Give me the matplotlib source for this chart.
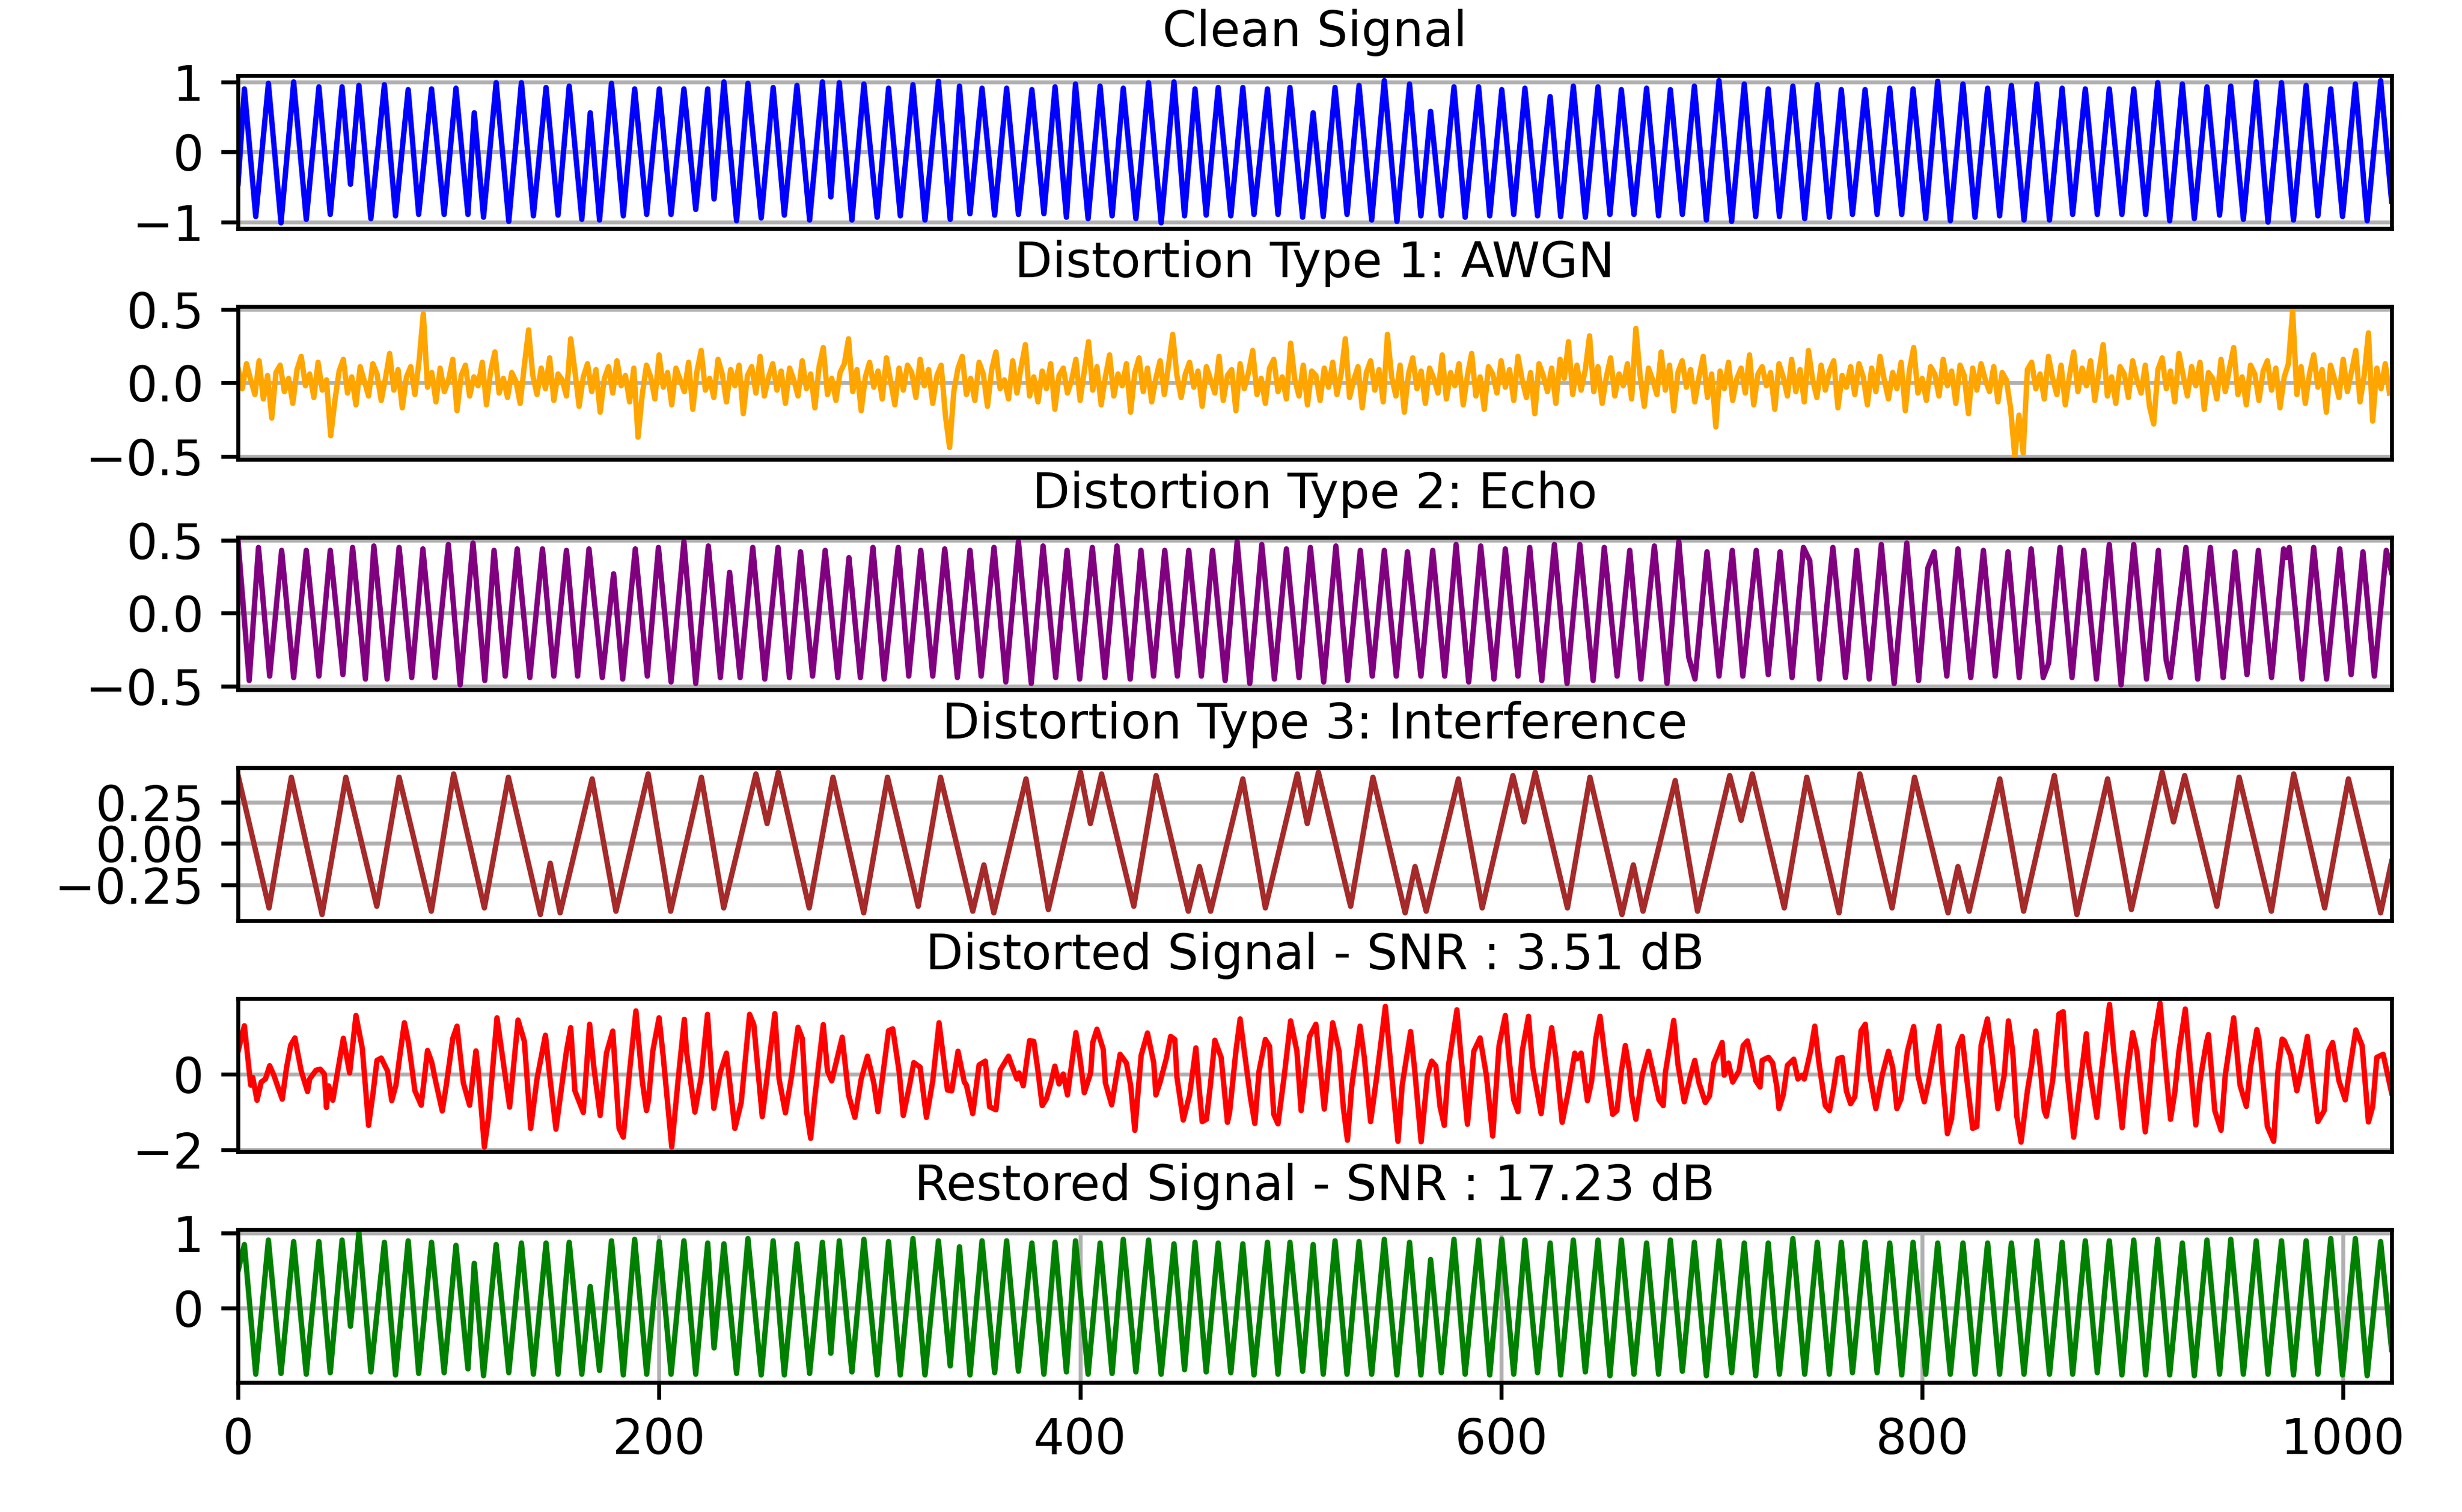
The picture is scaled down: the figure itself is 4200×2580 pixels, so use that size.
"""Clean, distorted and restored test signal, six stacked panels."""

import numpy as np
import matplotlib
matplotlib.use("Agg")
import matplotlib.pyplot as plt

# sample index of each turning point of the tone (shared by clean and restored)
TONE_T = [
    0, 3.0, 8.4, 14.4, 20.4, 26.4, 32.4, 38.4, 43.8, 49.4, 53.4,
    57.4, 63.1, 69.5, 74.8, 80.8, 85.8, 91.9, 97.9, 103.5, 109.2,
    112.2, 116.6, 122.6, 128.6, 134.6, 140.3, 146.3, 152.0, 157.3, 163.3,
    167.3, 171.7, 177.4, 183.0, 188.4, 194.1, 200.1, 205.7, 211.8, 217.4,
    223.1, 226.1, 230.8, 236.8, 242.2, 248.5, 254.2, 259.5, 265.5, 271.5,
    277.6, 281.6, 285.6, 291.6, 297.3, 303.6, 309.0, 314.6, 320.6, 326.3,
    332.7, 338.3, 342.7, 347.7, 353.4, 359.4, 365.1, 370.7, 377.1, 382.8,
    388.1, 393.5, 397.8, 403.8, 409.5, 415.2, 420.5, 426.5, 432.5, 438.5,
    444.6, 449.6, 454.6, 459.9, 465.6, 471.6, 477.3, 482.6, 489.0, 494.0,
    499.7, 505.7, 510.7, 515.5,
    521.1, 526.8, 532.5, 538.5, 544.5, 550.5, 556.5, 561.9, 566.5, 571.6,
    577.6, 582.9, 589.3, 594.6, 600.3, 606.0, 611.3, 617.3, 623.3, 628.3,
    634.3, 640.0, 646.0, 651.7, 657.1, 663.1, 669.1, 674.8, 680.4, 686.1,
    691.8, 697.5, 703.5, 709.5, 715.5, 720.9, 726.9, 732.2, 738.6, 744.2,
    750.2, 755.9, 761.6, 766.9, 772.9, 778.6, 784.6, 790.3, 795.7, 801.7,
    807.4, 813.4, 819.4, 825.1, 831.1, 836.8, 842.4, 848.4, 854.5, 860.5,
    866.5, 871.5, 877.5, 883.2, 888.9, 894.9, 900.5, 906.2, 911.9, 917.6,
    923.6, 929.3, 935.3, 941.3, 946.6, 952.6, 958.7, 964.3, 970.7, 976.4,
    982.4, 988.0, 994.1, 999.7, 1005.8, 1011.4, 1017.8, 1023,
]

CLEAN_V = [
    -0.45,
    0.90, -0.92, 0.98, -1.01, 1.00, -0.96, 0.93, -0.89, 0.93, -0.46,
    0.95, -0.95, 0.96, -0.91, 0.89, -0.89, 0.90, -0.89, 0.91, -0.89,
    0.56, -0.93, 0.99, -0.99, 0.99, -0.91, 0.92, -0.90, 0.94, -0.96,
    0.56, -0.97, 0.98, -0.91, 0.90, -0.89, 0.90, -0.89, 0.90, -0.82,
    0.90, -0.67, 1.00, -0.98, 0.98, -0.94, 0.92, -0.90, 0.95, -0.97,
    1.00, -0.64, 0.99, -0.97, 0.97, -0.93, 0.91, -0.91, 0.96, -0.97,
    1.01, -0.96, 0.94, -0.88, 0.91, -0.90, 0.91, -0.89, 0.89, -0.88,
    0.93, -0.93, 0.97, -0.95, 0.94, -0.91, 0.91, -0.95, 0.99, -1.01,
    1.00, -0.91, 0.90, -0.90, 0.92, -0.91, 0.92, -0.89, 0.90, -0.89,
    0.92, -0.93, 0.56, -0.92,
    0.92, -0.89, 0.95, -0.97, 1.02, -0.99, 0.97, -0.91, 0.58, -0.91,
    0.93, -0.93, 0.93, -0.91, 0.89, -0.89, 0.91, -0.91, 0.79, -0.92,
    0.94, -0.93, 0.93, -0.89, 0.89, -0.89, 0.91, -0.91, 0.89, -0.89,
    0.94, -0.97, 1.02, -0.99, 0.97, -0.92, 0.90, -0.92, 0.94, -0.95,
    0.96, -0.93, 0.89, -0.89, 0.89, -0.89, 0.91, -0.89, 0.90, -0.95,
    1.01, -0.98, 0.97, -0.93, 0.91, -0.91, 0.95, -0.97, 0.97, -0.97,
    0.91, -0.89, 0.90, -0.89, 0.90, -0.89, 0.90, -0.89, 0.99, -0.98,
    0.97, -0.95, 0.93, -0.90, 0.94, -0.96, 1.00, -1.00, 0.99, -0.97,
    0.95, -0.91, 0.90, -0.92, 0.97, -0.98, 1.02, -0.70,
]

RESTORED_V = [
    0.50,
    0.85, -0.88, 0.91, -0.87, 0.89, -0.88, 0.89, -0.86, 0.91, -0.24,
    1.01, -0.85, 0.88, -0.89, 0.90, -0.87, 0.88, -0.86, 0.84, -0.81,
    0.60, -0.90, 0.85, -0.86, 0.87, -0.88, 0.87, -0.88, 0.88, -0.88,
    0.29, -0.83, 0.90, -0.89, 0.92, -0.88, 0.89, -0.88, 0.90, -0.88,
    0.87, -0.53, 0.86, -0.87, 0.93, -0.89, 0.90, -0.89, 0.86, -0.87,
    0.88, -0.60, 0.90, -0.85, 0.92, -0.89, 0.89, -0.89, 0.93, -0.89,
    0.90, -0.77, 0.82, -0.89, 0.90, -0.86, 0.90, -0.84, 0.87, -0.88,
    0.88, -0.85, 0.90, -0.88, 0.87, -0.87, 0.92, -0.85, 0.91, -0.88,
    0.86, -0.82, 0.88, -0.85, 0.87, -0.86, 0.86, -0.89, 0.88, -0.88,
    0.88, -0.84, 0.85, -0.88,
    0.90, -0.88, 0.89, -0.88, 0.92, -0.89, 0.88, -0.89, 0.65, -0.86,
    0.92, -0.88, 0.91, -0.89, 0.92, -0.88, 0.91, -0.86, 0.87, -0.89,
    0.91, -0.85, 0.91, -0.90, 0.91, -0.88, 0.87, -0.88, 0.91, -0.84,
    0.88, -0.90, 0.90, -0.86, 0.87, -0.90, 0.87, -0.88, 0.93, -0.88,
    0.88, -0.88, 0.88, -0.86, 0.88, -0.86, 0.87, -0.89, 0.88, -0.88,
    0.87, -0.88, 0.87, -0.88, 0.87, -0.88, 0.87, -0.88, 0.90, -0.88,
    0.88, -0.88, 0.90, -0.86, 0.90, -0.89, 0.91, -0.89, 0.92, -0.89,
    0.87, -0.90, 0.91, -0.88, 0.92, -0.88, 0.90, -0.88, 0.90, -0.89,
    0.90, -0.88, 0.93, -0.89, 0.93, -0.90, 0.89, -0.55,
]

# AWGN, one reading every second sample
NOISE_T = np.arange(0, 1024, 2)
NOISE_V = [
    0.10, -0.04, 0.13, 0.02, -0.08, 0.15, -0.11, 0.05, -0.24, 0.07, 0.12, -0.06, 0.03, -0.14, 0.09, 0.18,
    -0.02, 0.06, -0.10, 0.14, -0.05, 0.02, -0.36, -0.12, 0.08, 0.16, -0.07, 0.04, -0.15, 0.11, 0.01, -0.09,
    0.13, 0.06, -0.12, 0.03, 0.20, -0.05, 0.09, -0.17, 0.04, 0.11, -0.08, 0.15, 0.47, -0.03, 0.07, -0.13,
    0.10, -0.06, 0.02, 0.16, -0.19, 0.05, 0.12, -0.09, 0.04, -0.02, 0.14, -0.15, 0.08, 0.21, -0.07, 0.03,
    -0.10, 0.07, 0.01, -0.14, 0.12, 0.36, 0.05, -0.08, 0.10, -0.04, 0.17, -0.12, 0.06, 0.02, -0.09, 0.30,
    0.08, -0.16, 0.04, 0.13, -0.06, 0.09, -0.20, 0.03, 0.11, -0.07, 0.15, -0.02, 0.05, -0.13, 0.10, -0.37,
    -0.08, 0.12, 0.04, -0.11, 0.19, -0.03, 0.07, -0.15, 0.10, 0.02, -0.06, 0.14, -0.18, 0.08, 0.22, -0.05,
    0.03, -0.10, 0.16, 0.06, -0.13, 0.09, -0.02, 0.12, -0.21, 0.05, 0.11, -0.07, 0.18, -0.09, 0.04, 0.13,
    -0.05, 0.08, -0.14, 0.10, 0.02, -0.09, 0.15, -0.04, 0.06, -0.17, 0.11, 0.24, -0.08, 0.03, -0.12, 0.07,
    0.13, 0.30, -0.06, 0.09, -0.19, 0.04, 0.14, -0.03, 0.08, -0.11, 0.17, 0.01, -0.15, 0.10, -0.05, 0.12,
    0.07, -0.10, 0.16, -0.02, 0.09, -0.14, 0.05, 0.12, -0.22, -0.44, -0.06, 0.10, 0.18, -0.08, 0.03, -0.12,
    0.14, 0.06, -0.16, 0.09, 0.21, -0.04, 0.02, -0.11, 0.15, -0.07, 0.11, 0.26, -0.09, 0.04, -0.13, 0.08,
    -0.04, 0.13, -0.18, 0.05, 0.10, -0.07, 0.02, 0.16, -0.12, 0.08, 0.28, -0.05, 0.11, -0.15, 0.04, 0.19,
    -0.09, 0.06, -0.02, 0.13, -0.20, 0.07, 0.17, -0.06, 0.10, -0.13, 0.03, 0.15, -0.08, 0.12, 0.33, 0.05,
    -0.10, 0.06, 0.14, -0.03, 0.08, -0.16, 0.11, 0.02, -0.07, 0.18, -0.12, 0.05, 0.09, -0.19, 0.13, -0.04,
    0.07, 0.22, -0.08, 0.03, -0.14, 0.10, 0.16, -0.06, 0.04, -0.11, 0.27, 0.02, -0.09, 0.12, -0.15, 0.08,
    0.05, -0.12, 0.10, -0.03, 0.14, -0.08, 0.06, 0.30, -0.10, 0.02, 0.11, -0.17, 0.07, 0.15, -0.05, 0.09,
    -0.13, 0.33, 0.04, -0.09, 0.12, -0.20, 0.06, 0.17, -0.04, 0.08, -0.14, 0.10, 0.03, -0.07, 0.19, -0.11,
    0.07, -0.02, 0.13, -0.15, 0.05, 0.20, -0.09, 0.04, -0.18, 0.11, 0.06, -0.07, 0.15, -0.03, 0.09, -0.12,
    0.18, 0.02, -0.10, 0.07, -0.21, 0.13, 0.05, -0.06, 0.10, -0.14, 0.16, 0.03, 0.28, -0.08, 0.12, -0.05,
    0.09, 0.32, -0.06, 0.11, -0.14, 0.04, 0.17, -0.09, 0.06, -0.02, 0.13, -0.11, 0.37, 0.05, -0.16, 0.10,
    0.02, -0.08, 0.21, -0.05, 0.12, -0.19, 0.07, 0.15, -0.03, 0.09, -0.13, 0.04, 0.18, -0.10, 0.06, -0.30,
    0.08, -0.04, 0.14, -0.12, 0.03, 0.10, -0.07, 0.19, -0.15, 0.06, 0.11, -0.02, 0.07, -0.18, 0.13, 0.04,
    -0.09, 0.16, -0.06, 0.09, -0.13, 0.22, 0.02, -0.10, 0.12, -0.05, 0.08, 0.15, -0.17, 0.05, -0.03, 0.11,
    -0.08, 0.13, 0.04, -0.15, 0.10, -0.06, 0.18, 0.02, -0.11, 0.07, -0.04, 0.14, -0.19, 0.09, 0.24, -0.07,
    0.03, -0.12, 0.11, 0.06, -0.09, 0.16, -0.02, 0.08, -0.14, 0.12, 0.05, -0.21, 0.10, -0.05, 0.13, 0.02,
    -0.06, 0.11, -0.13, 0.07, 0.02, -0.17, -0.50, -0.22, -0.48, 0.09, 0.14, -0.04, 0.06, -0.11, 0.18, 0.03,
    -0.08, 0.12, -0.15, 0.05, 0.21, -0.06, 0.10, -0.02, 0.15, -0.12, 0.08, 0.26, -0.09, 0.04, -0.14, 0.11,
    0.06, -0.10, 0.15, 0.02, -0.07, 0.12, -0.16, -0.28, 0.09, 0.17, -0.04, 0.08, -0.13, 0.20, 0.05, -0.09,
    0.11, -0.02, 0.14, -0.18, 0.07, 0.03, -0.11, 0.16, -0.06, 0.10, 0.24, -0.08, 0.04, -0.15, 0.12, 0.06,
    -0.12, 0.08, 0.15, -0.05, 0.10, -0.17, 0.04, 0.13, 0.49, -0.08, 0.11, -0.14, 0.06, 0.19, -0.03, 0.09,
    -0.20, 0.12, 0.02, -0.10, 0.16, -0.06, 0.08, 0.22, -0.13, 0.05, 0.34, -0.26, 0.10, -0.04, 0.13, -0.07,
]

ECHO_T = [
    0, 5.3, 9.7, 15.0, 20.7, 26.4, 32.4, 38.4, 43.8, 49.8, 54.4,
    60.5, 64.5, 70.8, 76.5, 82.5, 87.8, 93.5, 99.9, 105.5, 111.6,
    117.2, 121.6, 126.9, 132.6, 138.6, 144.6, 150.0, 156.0, 161.3, 166.7,
    173.0, 178.4, 182.7, 188.7, 194.4, 199.7, 205.7, 211.8, 217.4, 223.4,
    229.1, 233.5, 238.5, 244.5, 250.2, 256.5, 261.9, 267.2, 272.9, 278.9,
    284.9, 290.2, 295.6, 301.6, 306.9, 313.6, 318.6, 324.3, 330.0, 335.7,
    341.7, 347.7, 353.0, 359.1, 364.7, 370.7, 376.8, 382.4, 388.4, 393.8,
    399.8, 405.8, 411.8, 417.5, 423.8, 428.9, 434.9, 440.2, 446.2, 451.6,
    457.6, 462.9, 468.9, 474.6, 480.6, 486.3, 492.3, 498.0, 504.0, 509.4,
    515.7,
    521.5, 527.1, 533.1, 538.8, 544.5, 550.2, 555.5, 561.9, 567.5, 573.2,
    578.6, 584.6, 590.3, 596.6, 602.0, 608.0, 613.6, 619.3, 625.3, 631.3,
    637.4, 643.7, 649.0, 655.1, 661.1, 666.4, 672.8, 678.8, 684.4, 689.1,
    692.1, 697.8, 703.5, 709.8, 714.8, 721.2, 726.9, 732.5, 738.2, 743.6,
    746.6, 751.2, 757.6, 763.6, 768.9, 774.9, 780.6, 786.7, 792.7, 798.3,
    802.7, 805.7, 811.7, 817.0, 823.1, 829.1, 834.7, 840.8, 846.1, 851.8,
    857.5, 860.1, 865.5, 871.2, 876.8, 882.8, 888.9, 894.5, 900.5, 906.6,
    912.2, 915.9, 917.9, 925.3, 930.9, 936.9, 943.0, 948.6, 954.3, 959.7,
    966.0, 971.7, 973.0, 974.4, 980.4, 986.0, 992.1, 998.4, 1003.8, 1009.4,
    1014.8, 1020.5, 1023,
]

ECHO_V = [
    0.49,
    -0.46, 0.45, -0.43, 0.43, -0.44, 0.43, -0.43, 0.43, -0.42, 0.45,
    -0.45, 0.46, -0.45, 0.45, -0.44, 0.44, -0.44, 0.47, -0.49, 0.48,
    -0.46, 0.43, -0.43, 0.44, -0.44, 0.44, -0.43, 0.43, -0.43, 0.44,
    -0.44, 0.27, -0.45, 0.44, -0.43, 0.45, -0.47, 0.49, -0.48, 0.46,
    -0.44, 0.28, -0.44, 0.45, -0.45, 0.45, -0.44, 0.42, -0.43, 0.43,
    -0.44, 0.38, -0.44, 0.45, -0.45, 0.45, -0.43, 0.43, -0.43, 0.44,
    -0.44, 0.43, -0.43, 0.45, -0.47, 0.49, -0.48, 0.46, -0.44, 0.43,
    -0.45, 0.45, -0.44, 0.46, -0.45, 0.43, -0.43, 0.43, -0.43, 0.43,
    -0.43, 0.43, -0.46, 0.49, -0.48, 0.47, -0.45, 0.44, -0.44, 0.45,
    -0.47,
    0.46, -0.46, 0.43, -0.43, 0.43, -0.43, 0.42, -0.43, 0.43, -0.43,
    0.47, -0.47, 0.46, -0.45, 0.44, -0.43, 0.45, -0.46, 0.47, -0.48,
    0.47, -0.46, 0.45, -0.43, 0.43, -0.45, 0.46, -0.48, 0.49, -0.30,
    -0.45, 0.42, -0.43, 0.43, -0.43, 0.43, -0.42, 0.42, -0.44, 0.45,
    0.36, -0.45, 0.45, -0.44, 0.43, -0.45, 0.47, -0.48, 0.48, -0.46,
    0.31, 0.42, -0.43, 0.44, -0.44, 0.43, -0.43, 0.42, -0.44, 0.44,
    -0.44, -0.34, 0.45, -0.44, 0.43, -0.45, 0.47, -0.49, 0.47, -0.45,
    0.43, -0.32, -0.44, 0.45, -0.45, 0.45, -0.44, 0.42, -0.42, 0.43,
    -0.44, 0.44, 0.38, 0.45, -0.45, 0.45, -0.45, 0.44, -0.42, 0.42,
    -0.43, 0.43, 0.28,
]

INTERF_T = [
    0, 14.7, 25.3, 39.9, 51.2, 65.9, 76.5, 91.8, 102.4, 117.0,
    128.4, 143.6, 148.3, 153.0, 168.2, 179.5, 194.8, 205.5, 220.1, 230.7,
    246.0, 251.3, 256.6, 271.3, 282.6, 297.2, 308.5, 323.1, 333.7, 349.0,
    354.3, 359.0, 374.3, 384.9, 400.2, 404.9, 410.2, 425.5, 436.1, 451.4,
    456.7, 462.0, 477.3, 488.0, 503.2, 507.9, 513.2, 528.5, 539.1, 554.4,
    559.1, 564.4, 579.7, 591.0, 605.6, 610.9, 616.2, 631.5, 642.2, 657.4,
    662.8, 667.4, 682.7, 693.3, 708.6, 714.0, 719.3, 734.5, 745.2, 760.5,
    770.4, 785.7, 796.4, 812.3, 817.0, 822.3, 836.9, 848.2, 862.8, 873.5,
    888.1, 899.4, 914.0, 919.4, 924.7, 940.0, 950.6, 965.9, 976.5, 991.2,
    1002.5, 1017.8, 1023,
]

INTERF_V = [
    0.41, -0.39, 0.40, -0.43, 0.40, -0.38, 0.40, -0.41, 0.42, -0.39,
    0.40, -0.43, -0.12, -0.42, 0.39, -0.41, 0.42, -0.41, 0.40, -0.39,
    0.42, 0.12, 0.43, -0.39, 0.40, -0.42, 0.40, -0.38, 0.40, -0.41,
    -0.13, -0.42, 0.39, -0.40, 0.43, 0.12, 0.42, -0.38, 0.41, -0.41,
    -0.14, -0.41, 0.39, -0.39, 0.42, 0.12, 0.43, -0.38, 0.40, -0.42,
    -0.14, -0.41, 0.39, -0.39, 0.41, 0.13, 0.43, -0.39, 0.40, -0.43,
    -0.13, -0.41, 0.38, -0.41, 0.41, 0.14, 0.42, -0.39, 0.40, -0.42,
    0.42, -0.39, 0.40, -0.42, -0.14, -0.41, 0.39, -0.41, 0.41, -0.43,
    0.39, -0.40, 0.43, 0.13, 0.41, -0.38, 0.40, -0.41, 0.42, -0.39,
    0.39, -0.42, -0.11,
]

DISTORTED_T = [
    0, 3, 6, 7, 9, 11, 13, 15, 17, 19, 21, 23, 25, 27, 30, 33, 34, 37, 39, 41,
    42, 43, 45, 47, 50, 53, 56, 59, 62, 64, 66, 68, 71, 73, 75, 77, 79, 81, 84, 87,
    90, 92, 94, 97, 99, 102, 104, 107, 110, 113, 114, 117, 119, 123, 125, 129, 133, 136, 139, 142,
    146, 148, 151, 156, 158, 160, 164, 167, 169, 172, 175, 178, 181, 183, 186, 189, 192, 194, 195, 197,
    200, 202, 206, 209, 212, 213, 217, 220, 223, 226, 229, 232, 236, 239, 243, 245, 249, 255, 257, 260,
    263, 266, 268, 270, 272, 274, 278, 280, 282, 287, 290, 293, 296, 299, 302, 304, 309, 311, 314, 316,
    319, 321, 324, 327, 330, 333, 337, 339, 342, 345, 346, 349, 352, 355, 357, 360, 362, 366, 367, 370,
    371, 373, 376, 378, 380, 382, 384, 386, 388, 390, 392, 394, 398, 400, 402, 405, 406, 408, 411, 412,
    415, 417, 419, 422, 424, 426, 429, 432, 435, 436, 438, 441, 443, 445, 446, 449, 452, 455, 456, 458,
    460, 462, 464, 467, 470, 471, 474, 476, 478, 481, 483, 485, 488, 490, 492, 494, 497, 500, 503, 505,
    509, 512, 516,
    520, 523, 525, 527, 529, 533, 535, 538, 541, 545, 547, 551, 553, 557, 559, 562, 565, 567, 569, 571,
    573, 575, 579, 581, 584, 587, 590, 593, 596, 599, 602, 604, 606, 608, 610, 613, 615, 619, 621, 624,
    626, 629, 632, 635, 636, 638, 641, 643, 645, 647, 649, 653, 655, 657, 659, 661, 662, 664, 667, 670,
    672, 675, 677, 678, 682, 684, 687, 690, 692, 694, 697, 699, 701, 705, 706, 708, 710, 713, 715, 717,
    719, 721, 723, 724, 727, 729, 731, 732, 734, 736, 739, 741, 743, 744, 747, 749, 751, 754, 756, 758,
    760, 762, 764, 766, 768, 771, 773, 775, 778, 781, 784, 786, 788, 790, 793, 796, 798, 801, 803, 806,
    808, 809, 812, 814, 817, 819, 821, 824, 826, 828, 831, 833, 836, 839, 841, 843, 845, 847, 850, 852,
    854, 856, 858, 859, 862, 865, 867, 869, 872, 874, 878, 879, 883, 885, 889, 891, 895, 897, 900, 902,
    906, 908, 910, 913, 915, 918, 920, 922, 925, 927, 930, 932, 935, 936, 939, 942, 944, 948, 951, 954,
    956, 959, 960, 964, 967, 969, 971, 972, 975, 978, 980, 983, 985, 988, 991, 993, 995, 998, 1001, 1003,
    1006, 1009, 1012, 1014, 1016, 1019, 1023,
]

DISTORTED_V = [
    0.60, 1.27, -0.29, -0.09, -0.69, -0.21, -0.13, 0.22, -0.03, -0.35, -0.66, 0.16, 0.76, 0.95, 0.08, -0.46, -0.13, 0.10, 0.13, 0.00,
    -0.88, -0.31, -0.69, -0.03, 0.94, 0.03, 1.54, 0.68, -1.35, -0.55, 0.36, 0.42, 0.08, -0.70, -0.29, 0.55, 1.35, 0.81, -0.44, -0.82,
    0.62, 0.31, -0.23, -0.97, -0.26, 0.94, 1.26, -0.23, -0.82, 0.61, 0.13, -1.92, -1.12, 1.48, 0.70, -0.87, 1.42, 0.86, -1.43, -0.13,
    1.02, -0.03, -1.45, 0.60, 1.22, -0.44, -1.01, 1.31, 0.18, -1.09, 0.55, 1.13, -1.43, -1.66, 0.08, 1.66, -0.18, -0.96, -0.68, 0.60,
    1.48, 0.44, -1.92, -0.18, 1.44, 0.60, -1.00, -0.08, 1.57, -0.90, 0.03, 0.55, -1.43, -0.75, 1.57, 1.30, -1.12, 1.59, -0.13, -1.02,
    -0.03, 1.23, 0.94, -0.96, -1.69, -0.60, 1.30, 0.08, -0.18, 0.97, -0.55, -1.14, -0.13, 0.47, -0.23, -0.99, 1.14, 1.19, 0.08, -1.09,
    -0.29, 0.30, 0.18, -1.14, -0.18, 1.35, -0.42, -0.44, 0.60, -0.21, -0.29, -1.04, 0.24, 0.34, -0.86, -0.94, 0.10, 0.47, 0.31, -0.13,
    0.03, -0.31, 0.88, 0.86, 0.08, -0.83, -0.65, -0.26, 0.21, -0.26, 0.00, -0.55, 1.09, 0.39, -0.49, 0.03, 0.83, 1.18, 0.65, -0.23,
    -0.81, -0.13, 0.52, 0.29, -0.29, -1.48, 0.49, 1.08, 0.29, -0.55, -0.21, 0.42, 0.99, 0.91, -0.08, -1.21, -0.55, 0.69, -0.03, -1.25,
    -1.19, -0.23, 0.89, 0.44, -1.27, -1.01, 0.60, 1.45, 0.60, -0.65, -1.30, 0.08, 0.91, 0.73, -1.06, -1.31, -0.03, 1.40, 0.60, -0.96,
    0.99, 1.31, -0.92,
    1.35, 0.60, -0.86, -1.74, -0.34, 1.26, 0.44, -1.25, -0.03, 1.78, 0.60, -1.77, -0.29, 1.12, 0.08, -1.78, -0.03, 0.34, 0.21, -0.86,
    -1.35, 0.23, 1.69, 0.44, -1.32, 0.60, 0.95, -0.03, -1.63, 0.75, 1.54, 0.29, -0.68, -0.99, 0.60, 1.52, 0.18, -1.04, -0.03, 1.22,
    0.44, -1.27, -0.44, 0.55, 0.40, 0.55, -0.70, -0.18, 0.94, 1.52, 0.60, -1.06, -0.96, 0.03, 0.75, 0.08, -0.55, -1.19, -0.03, 0.60,
    0.10, -0.68, -0.83, 0.03, 1.41, 0.26, -0.73, -0.03, 0.36, -0.23, -0.75, -0.57, 0.29, 0.83, -0.03, 0.29, -0.21, 0.08, 0.75, 0.87,
    0.39, -0.18, -0.34, 0.36, 0.44, 0.29, -0.34, -0.91, -0.55, 0.23, 0.39, -0.13, -0.03, -0.13, 0.60, 1.26, 0.29, -0.83, -0.96, -0.34,
    0.40, 0.44, -0.44, -0.78, -0.60, 1.14, 1.31, 0.03, -0.91, -0.03, 0.60, 0.18, -0.91, -0.65, 0.60, 1.25, -0.03, -0.73, -0.23, 0.70,
    1.26, 0.34, -1.57, -1.17, 0.70, 0.99, -0.03, -1.43, -1.38, 0.75, 1.45, 0.60, -0.91, -0.03, 1.40, 0.60, -1.12, -1.79, -0.44, 0.23,
    1.13, 0.23, -0.96, -1.11, -0.18, 1.58, 1.64, -0.03, -1.66, -0.75, 1.06, 0.29, -1.14, -0.03, 1.83, 0.60, -1.41, -0.18, 1.09, 0.60,
    -1.52, -0.44, 0.86, 1.87, 0.60, -1.19, -0.49, 0.60, 1.71, 0.44, -1.34, -0.18, 0.82, 1.04, -0.96, -1.48, -0.03, 1.48, -0.29, -0.85,
    0.18, 1.17, 0.91, -1.38, -1.77, 0.08, 0.92, 0.88, 0.49, -0.44, 0.08, 0.99, 0.08, -1.25, -0.96, 0.60, 0.83, -0.18, -0.68, 0.08,
    1.16, 0.75, -1.26, -0.86, 0.44, 0.52, -0.49,
]

PANELS = [
    ("Clean Signal", TONE_T, CLEAN_V, "blue", (-1.09, 1.09)),
    ("Distortion Type 1: AWGN", NOISE_T, NOISE_V, "orange", (-0.52, 0.52)),
    ("Distortion Type 2: Echo", ECHO_T, ECHO_V, "purple", (-0.525, 0.52)),
    ("Distortion Type 3: Interference", INTERF_T, INTERF_V, "brown", (-0.468, 0.456)),
    ("Distorted Signal - SNR : 3.51 dB", DISTORTED_T, DISTORTED_V, "red", (-2.04, 1.98)),
    ("Restored Signal - SNR : 17.23 dB", TONE_T, RESTORED_V, "green", (-0.99, 1.05)),
]

fig, axes = plt.subplots(6, 1, figsize=(7, 4.3), dpi=600)
fig.subplots_adjust(left=0.0967, right=0.9714, top=0.95, bottom=0.0857, hspace=0.51)

for i, (ax, (title, t, v, color, ylim)) in enumerate(zip(axes, PANELS)):
    if len(t) != len(v):
        raise ValueError(f"{title}: {len(t)} times vs {len(v)} values")
    ax.plot(t, v, color=color, linewidth=1.1)
    ax.set_title(title, fontsize=10)
    ax.set_xlim(0, 1023)
    ax.set_ylim(*ylim)
    ax.grid(True)
    if i < len(PANELS) - 1:
        ax.set_xticks([])

fig.savefig("out.png", dpi=600)
